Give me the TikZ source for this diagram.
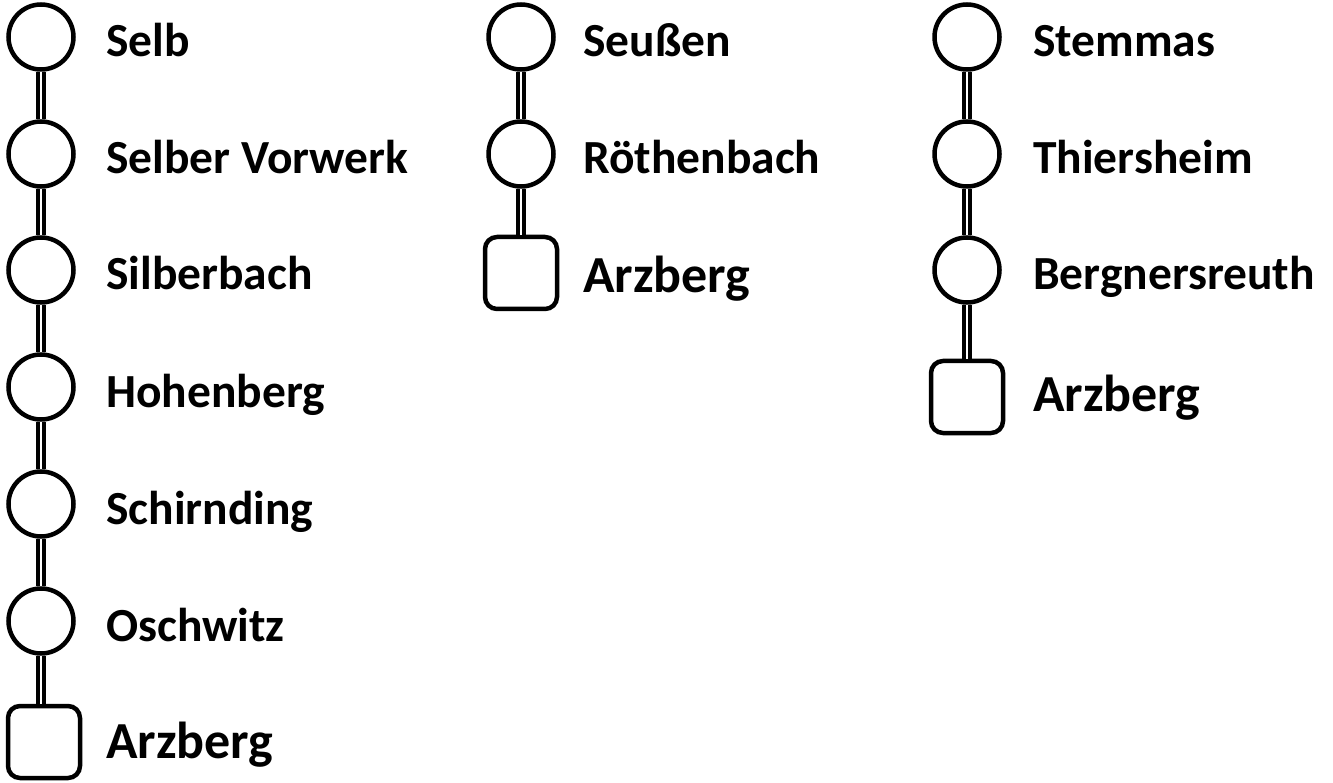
\documentclass[tikz,border=0pt]{standalone}
\usepackage{fontspec}
\setmainfont{Carlito}
\begin{document}
\begin{tikzpicture}[x=1pt,y=-1pt,
  stop/.style={circle,draw=black,line width=4.5pt,fill=white,minimum size=65pt,inner sep=0pt},
  term/.style={rectangle,draw=black,line width=4.5pt,fill=white,rounded corners=12pt,minimum width=72pt,minimum height=72pt,inner sep=0pt},
  lbl/.style={anchor=base west,inner sep=0pt,font=\fontsize{47.5}{50}\selectfont\bfseries},
  biglbl/.style={anchor=base west,inner sep=0pt,font=\fontsize{52}{56}\selectfont\bfseries},
  track/.style={draw=black,line width=3.5pt,double=white,double distance=2.5pt}]
\useasboundingbox (0,0) rectangle (1333,783);
% column 1
\node[stop] (a1) at (41,37) {};
\node[stop] (a2) at (41,154) {};
\node[stop] (a3) at (41,270) {};
\node[stop] (a4) at (41,387) {};
\node[stop] (a5) at (41,504) {};
\node[stop] (a6) at (41,621) {};
\node[term] (a7) at (44,742) {};
\node[lbl] (la1) at (106,57) {Selb};
\node[lbl] (la2) at (106,174) {Selber Vorwerk};
\node[lbl] (la3) at (106,290) {Silberbach};
\node[lbl] (la4) at (106,407) {Hohenberg};
\node[lbl] (la5) at (106,524) {Schirnding};
\node[lbl] (la6) at (106,641) {Oschwitz};
\node[biglbl] (la7) at (106,758) {Arzberg};
% column 2
\node[stop] (b1) at (521,37) {};
\node[stop] (b2) at (521,154) {};
\node[term] (b3) at (521,273) {};
\node[lbl] (lb1) at (583,57) {Seußen};
\node[lbl] (lb2) at (583,174) {Röthenbach};
\node[biglbl] (lb3) at (583,293) {Arzberg};
% column 3
\node[stop] (c1) at (967,37) {};
\node[stop] (c2) at (967,154) {};
\node[stop] (c3) at (967,270) {};
\node[term] (c4) at (967,397) {};
\node[lbl] (lc1) at (1033,57) {Stemmas};
\node[lbl] (lc2) at (1033,174) {Thiersheim};
\node[lbl] (lc3) at (1033,290) {Bergnersreuth};
\node[biglbl] (lc4) at (1033,411) {Arzberg};
% tracks
\foreach \u/\v in {a1/a2,a2/a3,a3/a4,a4/a5,a5/a6,b1/b2,c1/c2,c2/c3}
  \draw[track] (\u.south) -- (\v.north);
\draw[track] (a6.south) -- (a6.south |- a7.north);
\draw[track] (b2.south) -- (b3.north);
\draw[track] (c3.south) -- (c4.north);
\end{tikzpicture}
\end{document}
